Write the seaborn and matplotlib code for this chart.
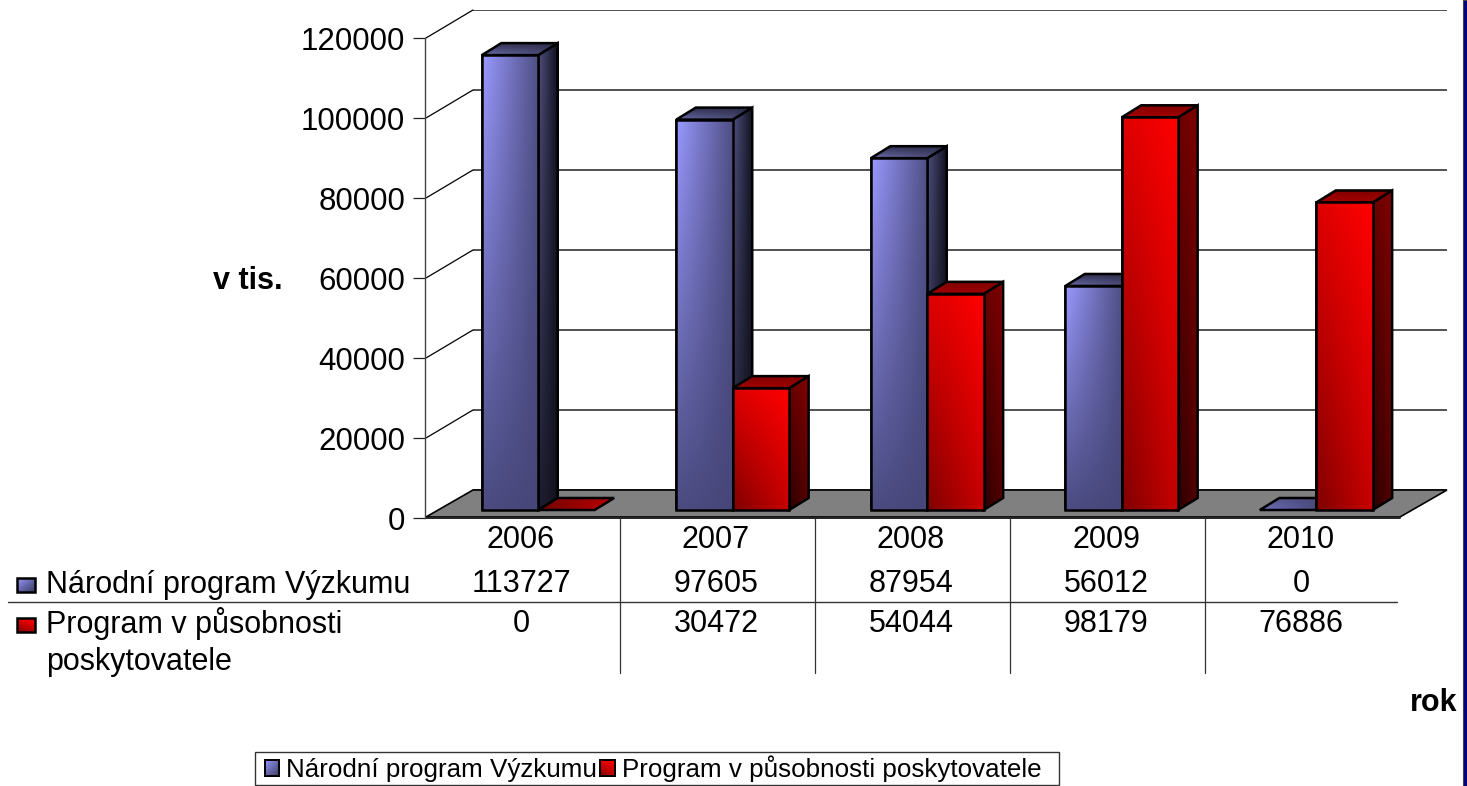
import numpy as np
import pandas as pd
import seaborn as sns
import matplotlib.pyplot as plt
from matplotlib.colors import to_rgb
from matplotlib.patches import Polygon, Rectangle

years = ["2006", "2007", "2008", "2009", "2010"]
narodni = [113727, 97605, 87954, 56012, 0]
poskytovatel = [0, 30472, 54044, 98179, 76886]
series_names = ["Národní program Výzkumu", "Program v působnosti poskytovatele"]
table_names = ["Národní program Výzkumu", "Program v působnosti\nposkytovatele"]
y_ticks = [0, 20000, 40000, 60000, 80000, 100000, 120000]

W, H = 1467, 786

sns.set_theme(style="white")
plt.rcParams["font.family"] = ["Liberation Sans", "DejaVu Sans"]
plt.rcParams["text.color"] = "black"
plt.rcParams["ytick.color"] = "black"

# gradient corners: top left, top right, bottom left, bottom right
BLUE_FRONT = ["#9999ff", "#4f4f85", "#4c4c82", "#46467a"]
BLUE_SIDE = ["#50507f", "#101020", "#1e1e33", "#12121c"]
BLUE_TOP = ["#333355", "#2c2c48", "#6a6aa8", "#46466f"]
BLUE_FLAT = ["#5a5a96", "#44446f", "#7272c0", "#3c3c66"]
RED_FRONT = ["#dd0000", "#ff0000", "#800000", "#c80000"]
RED_SIDE = ["#6a0000", "#800000", "#2a0000", "#550000"]
RED_TOP = ["#800000", "#800000", "#a80000", "#a00000"]
RED_FLAT = ["#7a0000", "#b00000", "#6a0000", "#c80000"]
BLUE_KEY = ["#9999ff", "#6666aa", "#6666aa", "#3c3c66"]
RED_KEY = ["#ee0000", "#ff0000", "#800000", "#bb0000"]


def px_axes(left, top, width, height):
    return fig.add_axes([left / W, (H - top - height) / H, width / W, height / H])


def gradient(ax, verts, corners, z, lw=1.8):
    verts = np.array(verts)
    c = np.array([to_rgb(k) for k in corners])
    u, v = np.meshgrid(np.linspace(0, 1, 48), np.linspace(0, 1, 48))
    u, v = u[..., None], v[..., None]
    img = (1 - u) * (1 - v) * c[0] + u * (1 - v) * c[1] + (1 - u) * v * c[2] + u * v * c[3]
    x0, x1 = verts[:, 0].min(), verts[:, 0].max()
    y0, y1 = verts[:, 1].min(), verts[:, 1].max()
    poly = Polygon(verts, closed=True, fc="none", ec="black", lw=lw, zorder=z + 0.1, clip_on=False)
    ax.add_patch(poly)
    # flip the picture when the y axis runs downwards so "top" stays on top
    origin = "lower" if ax.yaxis_inverted() else "upper"
    im = ax.imshow(img, extent=(x0, x1, y0, y1), origin=origin, aspect="auto",
                   interpolation="bilinear", zorder=z)
    im.set_clip_path(poly)


fig = plt.figure(figsize=(W / 100, H / 100), dpi=100, facecolor="white")

# back wall gridlines
ax_back = px_axes(473, 10, 974, 480)
ax_back.set_zorder(0)
ax_back.set_xlim(0, 1)
ax_back.set_ylim(0, 120000)
ax_back.set_yticks(y_ticks)
ax_back.set_xticks([])
ax_back.tick_params(left=False, labelleft=False)
ax_back.grid(axis="y", color="#222222", lw=1.1)
sns.despine(ax=ax_back, left=True, bottom=True)

# pixel layer: floor, wall edges, table, labels
ax_px = px_axes(0, 0, W, H)
ax_px.set_zorder(1)
ax_px.patch.set_alpha(0)
ax_px.set_xlim(0, W)
ax_px.set_ylim(H, 0)
ax_px.set_autoscale_on(False)
ax_px.axis("off")

ax_px.add_patch(Polygon([(426, 517), (473, 490), (1447, 490), (1400, 517)],
                        fc="#808080", ec="black", lw=1.2))
for tick in y_ticks[1:]:
    yy = 518 - tick * 0.004
    ax_px.plot([426, 473], [yy, yy - 28], color="black", lw=0.9)

ax_px.plot([426, 1400], [518, 518], color="#222222", lw=1.4)
ax_px.plot([8, 1397], [602, 602], color="#333333", lw=1.0)
for xx in [619.5, 815, 1010, 1205]:
    ax_px.plot([xx, xx], [518, 673], color="#333333", lw=0.9)

for i, year in enumerate(years):
    cx = 521 + 195 * i
    ax_px.text(cx, 539.5, year, ha="center", va="center", fontsize=22)
    ax_px.text(cx, 583.5, str(narodni[i]), ha="center", va="center", fontsize=22)
    ax_px.text(cx, 623.5, str(poskytovatel[i]), ha="center", va="center", fontsize=22)

gradient(ax_px, [(17, 578), (35, 578), (35, 592), (17, 592)], BLUE_KEY, 3)
gradient(ax_px, [(17, 618), (35, 618), (35, 632), (17, 632)], RED_KEY, 3)
ax_px.text(46, 585, table_names[0], ha="left", va="center", fontsize=22)
ax_px.text(46, 642, table_names[1], ha="left", va="center", fontsize=22, linespacing=1.32)

ax_px.text(248, 281, "v tis.", ha="center", va="center", fontsize=22, fontweight="bold")
ax_px.text(1434, 703, "rok", ha="center", va="center", fontsize=22, fontweight="bold")

ax_px.add_patch(Rectangle((1463, 0), 4, H, fc="#000080", ec="#444444", lw=0.8, clip_on=True))
# legend box
ax_px.add_patch(Rectangle((255, 752), 804, 33, fc="white", ec="#333333", lw=1.0))

# front y axis
ax_y = px_axes(425, 38, 974, 480)
ax_y.set_zorder(1)
ax_y.patch.set_alpha(0)
ax_y.set_xlim(0, 1)
ax_y.set_ylim(0, 120000)
ax_y.set_xticks([])
ax_y.set_yticks(y_ticks)
ax_y.tick_params(axis="y", left=True, length=8.6, width=0.9, color="#222222", pad=5.8, labelsize=22.5)
sns.despine(ax=ax_y, bottom=True)
ax_y.spines["left"].set_color("#444444")
ax_y.spines["left"].set_linewidth(1.0)

# bars
df = pd.DataFrame({
    "rok": years * 2,
    "serie": [series_names[0]] * 5 + [series_names[1]] * 5,
    "hodnota": narodni + poskytovatel,
})
ax = px_axes(441, 30, 972.5, 480)
ax.set_zorder(2)
ax.patch.set_alpha(0)
sns.barplot(data=df, x="rok", y="hodnota", hue="serie", palette=["#7a7ac8", "#cc0000"],
            width=0.58, gap=0, saturation=1, edgecolor="black", linewidth=1.2, ax=ax)
ax.set_xlim(-0.5, 4.5)
ax.set_ylim(0, 120000)
ax.set_autoscale_on(False)

dx = 19.5 / (972.5 / 5)
dy = 12 / 480 * 120000
looks = [(BLUE_FRONT, BLUE_SIDE, BLUE_TOP, BLUE_FLAT), (RED_FRONT, RED_SIDE, RED_TOP, RED_FLAT)]
z = 3
for col in range(len(years)):
    for s, cont in enumerate(ax.containers):
        bar = cont[col]
        front, side, top, flat = looks[s]
        x0, w, h = bar.get_x(), bar.get_width(), bar.get_height()
        x1 = x0 + w
        bar.set_zorder(z)
        if h > 0:
            gradient(ax, [(x1, 0), (x1 + dx, dy), (x1 + dx, h + dy), (x1, h)], side, z + 1)
            gradient(ax, [(x0, h), (x1, h), (x1 + dx, h + dy), (x0 + dx, h + dy)], top, z + 2)
            gradient(ax, [(x0, 0), (x1, 0), (x1, h), (x0, h)], front, z + 3)
        else:
            gradient(ax, [(x0, h), (x1, h), (x1 + dx, h + dy), (x0 + dx, h + dy)], flat, z + 2)
        z += 4

handles, labels = ax.get_legend_handles_labels()
ax.get_legend().remove()
ax.axis("off")
leg = ax.legend(handles, labels, ncol=2, loc="lower left", bbox_to_anchor=(265 / W, 4 / H),
                bbox_transform=fig.transFigure, frameon=False, fontsize=18.7,
                handlelength=0.55, handleheight=0.55, handletextpad=0.27,
                columnspacing=0.12, borderpad=0, borderaxespad=0)
leg.set_zorder(500)

# gradient on the legend keys
ax_keys = px_axes(0, 0, W, H)
ax_keys.set_zorder(3)
ax_keys.patch.set_alpha(0)
ax_keys.set_xlim(0, W)
ax_keys.set_ylim(H, 0)
ax_keys.set_autoscale_on(False)
ax_keys.axis("off")
fig.canvas.draw()
for handle, corners in zip(leg.legend_handles, [BLUE_KEY, RED_KEY]):
    box = handle.get_window_extent()
    gradient(ax_keys, [(box.x0, H - box.y1), (box.x1, H - box.y1),
                       (box.x1, H - box.y0), (box.x0, H - box.y0)], corners, 3, lw=1.4)

fig.savefig("out.png", dpi=100)
